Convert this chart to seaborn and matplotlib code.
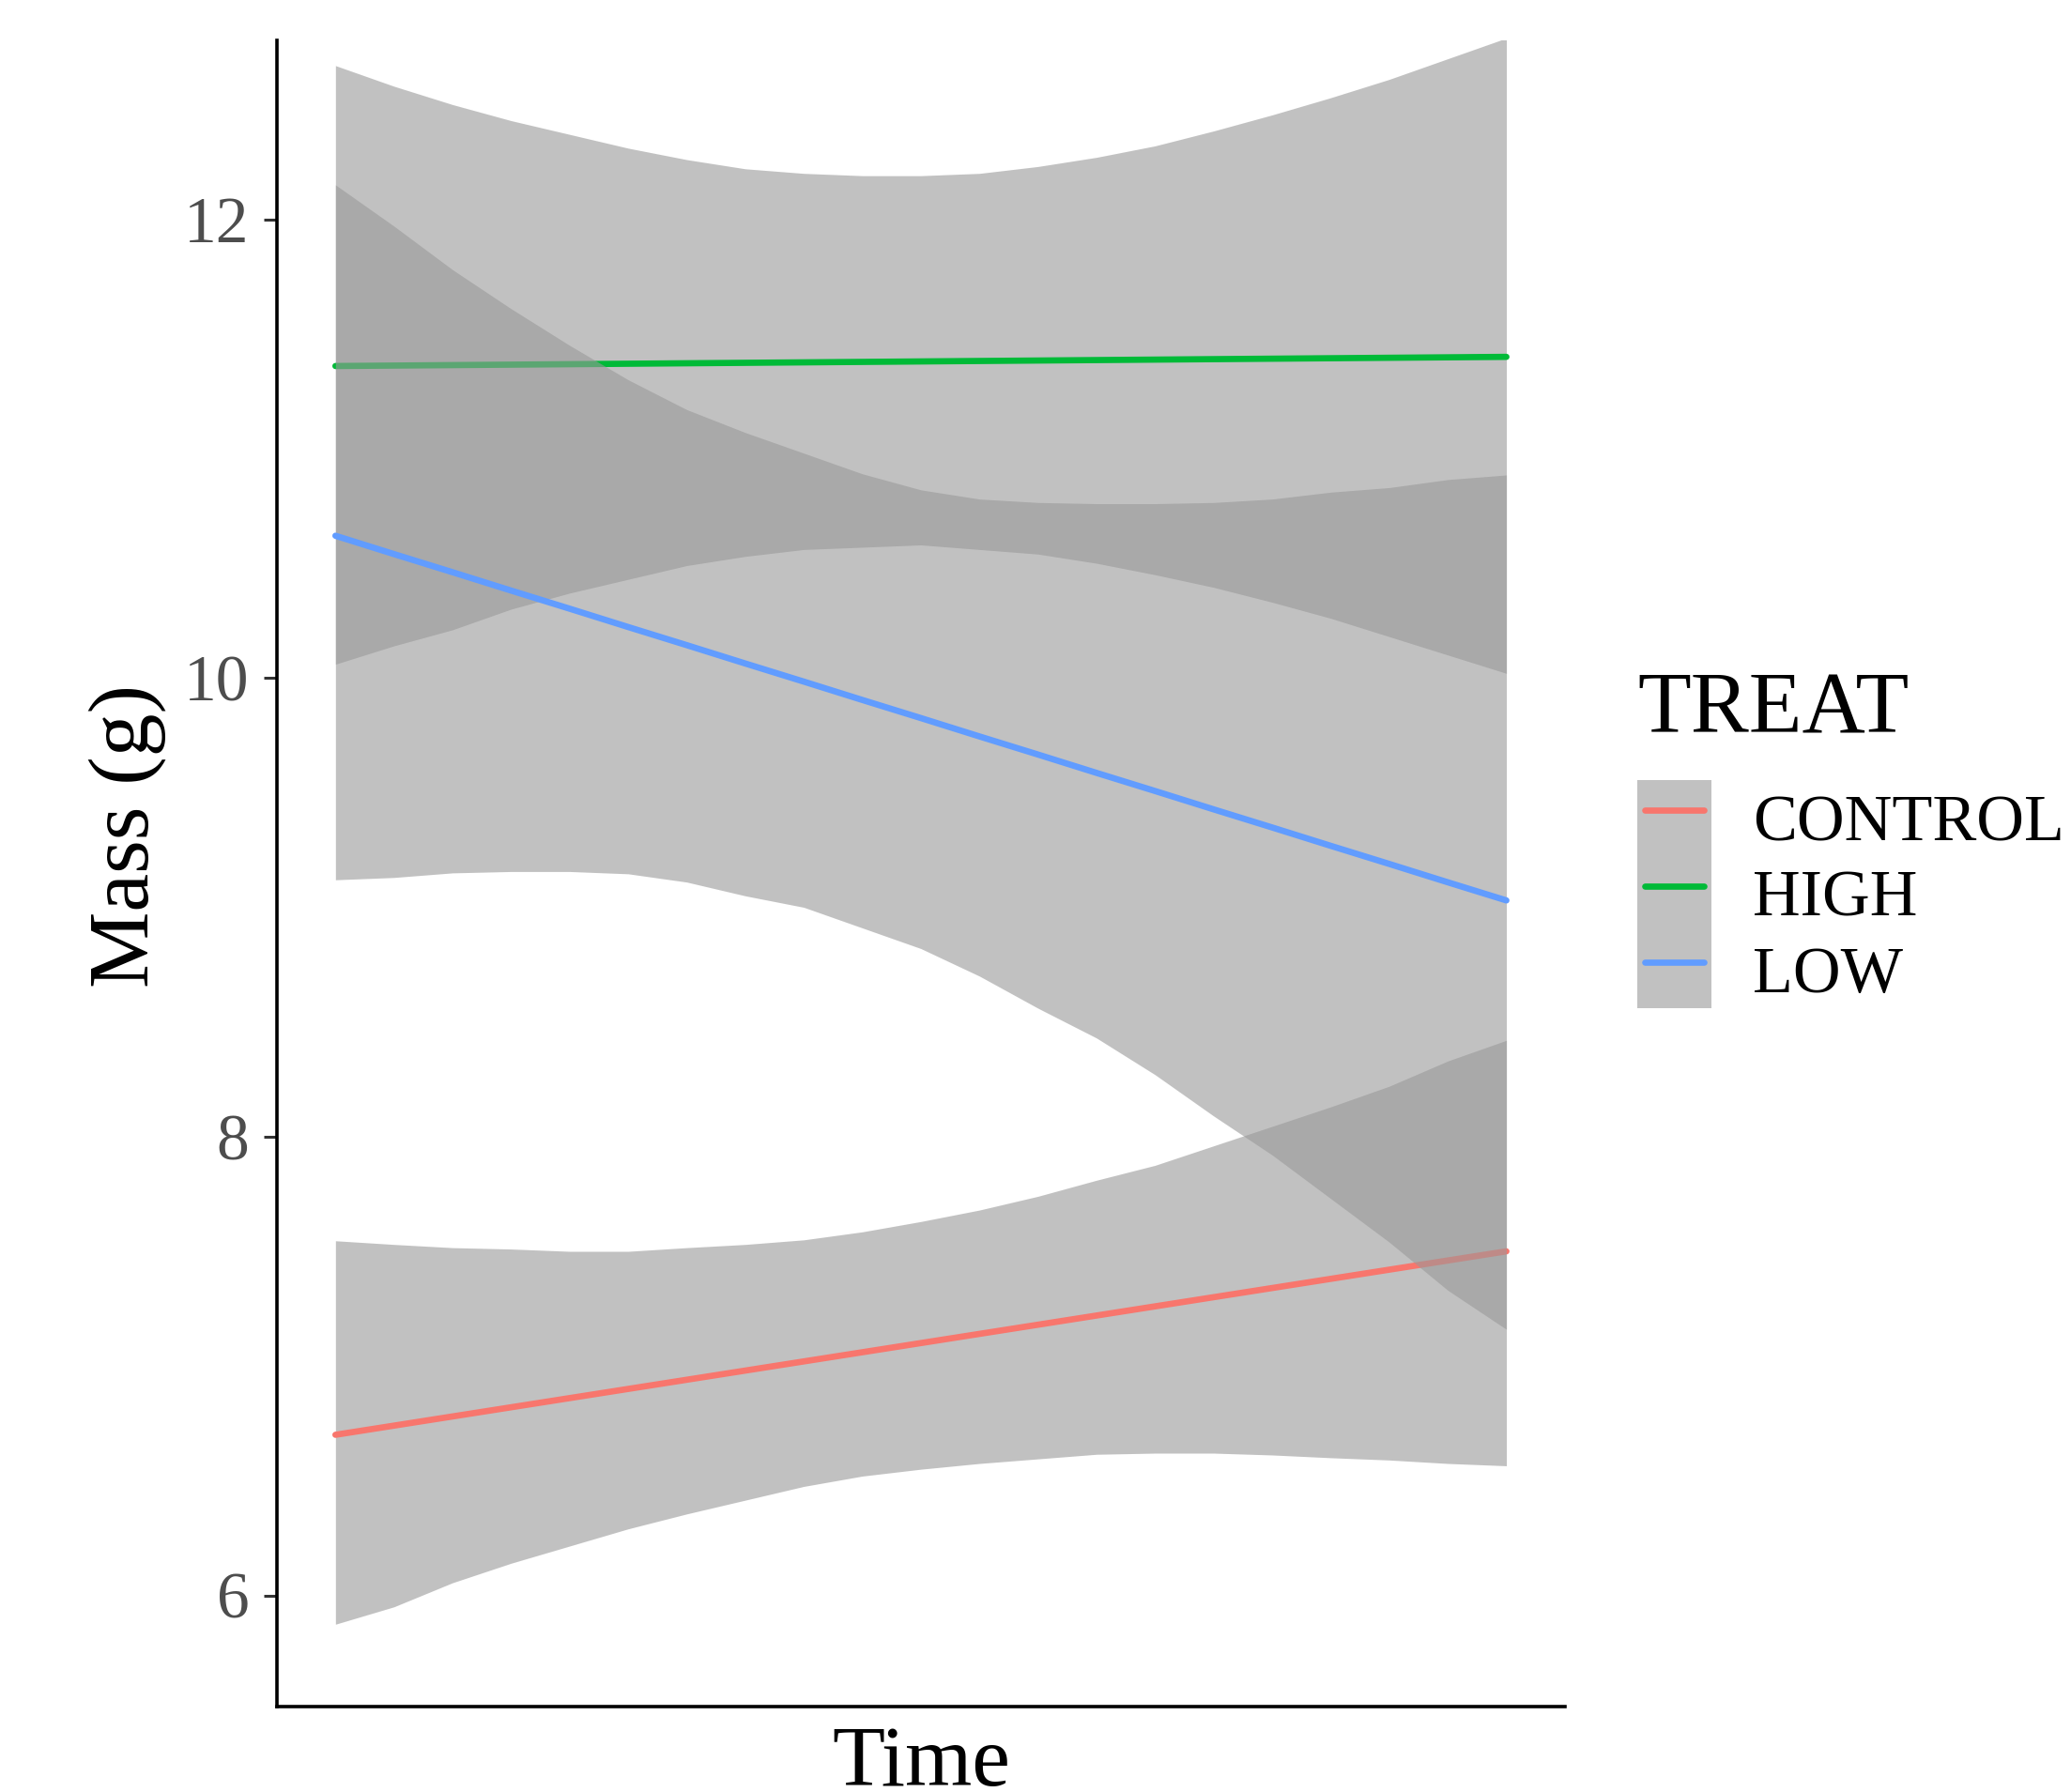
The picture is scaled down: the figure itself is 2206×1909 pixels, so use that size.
import numpy as np
import pandas as pd
import matplotlib
matplotlib.use("Agg")
import matplotlib.pyplot as plt
import seaborn as sns
from matplotlib.patches import Patch
from matplotlib.lines import Line2D
from matplotlib.legend_handler import HandlerTuple, HandlerLine2D

# ---------------- data ----------------
time = list(range(21))
treat_levels = ["CONTROL", "HIGH", "LOW"]

control_fit   = [6.70, 6.74, 6.78, 6.82, 6.86, 6.90, 6.94, 6.98, 7.02, 7.06, 7.10,
                 7.14, 7.18, 7.22, 7.26, 7.30, 7.34, 7.38, 7.42, 7.46, 7.50]
control_upper = [7.546, 7.53, 7.516, 7.51, 7.50, 7.50, 7.516, 7.53, 7.55, 7.585, 7.63,
                 7.68, 7.74, 7.81, 7.875, 7.96, 8.045, 8.13, 8.22, 8.33, 8.42]
control_lower = [5.874, 5.95, 6.055, 6.14, 6.215, 6.29, 6.355, 6.415, 6.475, 6.52, 6.55,
                 6.575, 6.595, 6.615, 6.62, 6.62, 6.612, 6.60, 6.59, 6.575, 6.565]

high_fit   = [11.360, 11.362, 11.364, 11.366, 11.368, 11.370, 11.372, 11.374, 11.376, 11.378, 11.380,
              11.382, 11.384, 11.386, 11.388, 11.390, 11.392, 11.394, 11.396, 11.398, 11.400]
high_upper = [12.67, 12.58, 12.50, 12.43, 12.37, 12.31, 12.26, 12.22, 12.20, 12.19, 12.19,
              12.20, 12.23, 12.27, 12.32, 12.385, 12.455, 12.53, 12.61, 12.70, 12.79]
high_lower = [10.06, 10.14, 10.21, 10.30, 10.37, 10.43, 10.49, 10.53, 10.56, 10.57, 10.58,
              10.56, 10.54, 10.50, 10.45, 10.395, 10.33, 10.26, 10.18, 10.10, 10.02]

low_fit   = [10.620, 10.540, 10.461, 10.381, 10.302, 10.222, 10.143, 10.063, 9.984, 9.904, 9.825,
             9.745, 9.666, 9.586, 9.507, 9.427, 9.348, 9.268, 9.189, 9.109, 9.030]
low_upper = [12.15, 11.97, 11.78, 11.61, 11.45, 11.30, 11.17, 11.07, 10.98, 10.89, 10.82,
             10.78, 10.765, 10.76, 10.76, 10.765, 10.78, 10.81, 10.83, 10.865, 10.885]
low_lower = [9.12, 9.13, 9.15, 9.156, 9.156, 9.146, 9.11, 9.05, 9.00, 8.91, 8.82,
             8.70, 8.56, 8.43, 8.27, 8.09, 7.92, 7.73, 7.54, 7.33, 7.16]

y_ticks = [6, 8, 10, 12]

frames = []
for name, f, lo, up in [("CONTROL", control_fit, control_lower, control_upper),
                        ("HIGH", high_fit, high_lower, high_upper),
                        ("LOW", low_fit, low_lower, low_upper)]:
    frames.append(pd.DataFrame({"Time": time, "Mass": f, "lower": lo,
                                "upper": up, "TREAT": name}))
df = pd.concat(frames, ignore_index=True)

# ---------------- style ----------------
sns.set_theme(style="white")
plt.rcParams["font.family"] = ["Liberation Serif", "DejaVu Serif"]
plt.rcParams["text.color"] = "black"
plt.rcParams["axes.labelcolor"] = "black"

palette = {"CONTROL": "#F8766D", "HIGH": "#00BA38", "LOW": "#619CFF"}
ribbon_color = "#999999"
ribbon_alpha = 0.6
line_w = 2.4

fig = plt.figure(figsize=(11.03, 9.545), dpi=200)
ax = fig.add_axes([0.1337, 0.04767, 0.62194, 0.92981])

z = 1
for name in treat_levels:
    sub = df[df["TREAT"] == name]
    ax.fill_between(sub["Time"], sub["lower"], sub["upper"], color=ribbon_color,
                    alpha=ribbon_alpha, linewidth=0, zorder=z)
    sns.lineplot(data=sub, x="Time", y="Mass", color=palette[name], linewidth=line_w,
                 ax=ax, legend=False, zorder=z + 1, errorbar=None)
    z += 2

# axes limits (ggplot-like 5% expansion in x)
span = time[-1] - time[0]
ax.set_xlim(time[0] - 0.05 * span, time[-1] + 0.05 * span)
ax.set_ylim(5.515, 12.78)

ax.set_yticks(y_ticks)
ax.set_yticklabels([str(t) for t in y_ticks])
ax.set_xticks([])

for s in ["top", "right"]:
    ax.spines[s].set_visible(False)
for s in ["left", "bottom"]:
    ax.spines[s].set_color("black")
    ax.spines[s].set_linewidth(1.3)

ax.tick_params(axis="y", which="major", left=True, length=5.2, width=1.1,
               color="#333333", labelsize=25, labelcolor="#4D4D4D", pad=5.4)

ax.set_xlabel("Time", fontsize=33, color="black")
ax.set_ylabel("Mass (g)", fontsize=33, color="black")
ax.xaxis.label.set_va("baseline")
ax.xaxis.set_label_coords(0.5, -0.0475)
ax.yaxis.set_label_coords(-0.086, 0.5228)

# ---------------- legend ----------------
handles = [(Patch(facecolor=ribbon_color, alpha=ribbon_alpha, edgecolor="none"),
            Line2D([], [], color=palette[n], linewidth=line_w)) for n in treat_levels]
leg = fig.legend(handles, treat_levels, title="TREAT", loc="upper left",
                 bbox_to_anchor=(0.7906, 0.6250), frameon=False,
                 fontsize=25.3, title_fontsize=33.5,
                 handlelength=1.13, handleheight=1.39, labelspacing=0.0,
                 handletextpad=0.62, borderpad=0.0, borderaxespad=0.0,
                 alignment="left",
                 handler_map={tuple: HandlerTuple(ndivide=1, pad=0),
                              Line2D: HandlerLine2D(numpoints=2, marker_pad=0.12)})
for t in leg.get_texts():
    t.set_color("black")
leg.get_title().set_color("black")
leg._legend_box.sep = 11

fig.savefig("out.png", dpi=200, facecolor="white")
